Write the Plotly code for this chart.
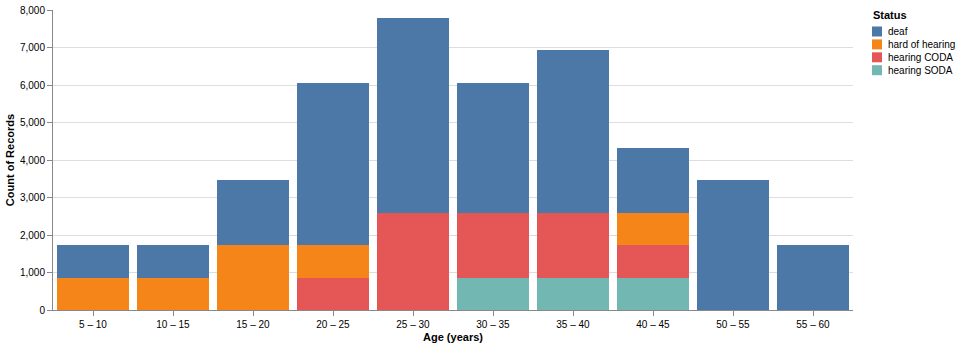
import plotly.graph_objects as go

categories = ["5 – 10", "10 – 15", "15 – 20", "20 – 25", "25 – 30",
              "30 – 35", "35 – 40", "40 – 45", "50 – 55", "55 – 60"]
deaf = [866, 866, 1732, 4330, 5196, 3464, 4330, 1732, 3464, 1732]
hard_of_hearing = [866, 866, 1732, 866, 0, 0, 0, 866, 0, 0]
hearing_coda = [0, 0, 0, 866, 2598, 1732, 1732, 866, 0, 0]
hearing_soda = [0, 0, 0, 0, 0, 866, 866, 866, 0, 0]

series = [
    ("hearing SODA", hearing_soda, "#72b7b2"),
    ("hearing CODA", hearing_coda, "#e45756"),
    ("hard of hearing", hard_of_hearing, "#f58518"),
    ("deaf", deaf, "#4c78a8"),
]

W, H = 960, 347
L, R, T, B = 53, 107, 10, 37
PW, PH = W - L - R, H - T - B


def px(x):
    return (x - L) / PW


def py(y):
    return (H - B - y) / PH


fig = go.Figure()
for name, vals, col in series:
    fig.add_trace(go.Bar(x=categories, y=vals, name=name, showlegend=False,
                         marker=dict(color=col, line=dict(width=0))))

font = "Liberation Sans, Arial, sans-serif"

# manual legend (Vega-style compact)
shapes = []
annotations = [dict(text="<b>Status</b>", x=px(871), y=py(15), xref="paper", yref="paper",
                    xanchor="left", yanchor="middle", showarrow=False,
                    font=dict(size=11, family=font, color="#000"))]
for i, (name, vals, col) in enumerate(reversed(series)):
    cy = 31.5 + i * 12.9
    shapes.append(dict(type="rect", xref="paper", yref="paper",
                       x0=px(872), x1=px(882), y0=py(cy - 5), y1=py(cy + 5),
                       fillcolor=col, line=dict(width=0)))
    annotations.append(dict(text=name, x=px(886), y=py(cy), xref="paper", yref="paper",
                            xanchor="left", yanchor="middle", showarrow=False,
                            font=dict(size=10, family=font, color="#000")))

fig.update_layout(
    barmode="stack",
    bargap=0.1,
    width=W, height=H,
    margin=dict(l=L, r=R, t=T, b=B),
    plot_bgcolor="white", paper_bgcolor="white",
    font=dict(family=font, size=10, color="#000"),
    showlegend=False,
    shapes=shapes,
    annotations=annotations,
    xaxis=dict(
        title=dict(text="<b>Age (years)</b>", font=dict(size=11), standoff=4),
        showline=True, linecolor="#888", linewidth=1,
        ticks="outside", ticklen=5, tickcolor="#888",
        tickfont=dict(size=10),
        showgrid=False, automargin=False,
    ),
    yaxis=dict(
        title=dict(text="<b>Count of Records</b>", font=dict(size=11), standoff=3),
        range=[0, 8000], dtick=1000, tickformat=",",
        showline=True, linecolor="#888", linewidth=1,
        ticks="outside", ticklen=5, tickcolor="#888",
        tickfont=dict(size=10),
        gridcolor="#ddd", gridwidth=1, zeroline=False, automargin=False,
    ),
)

fig.write_html("out.html")
